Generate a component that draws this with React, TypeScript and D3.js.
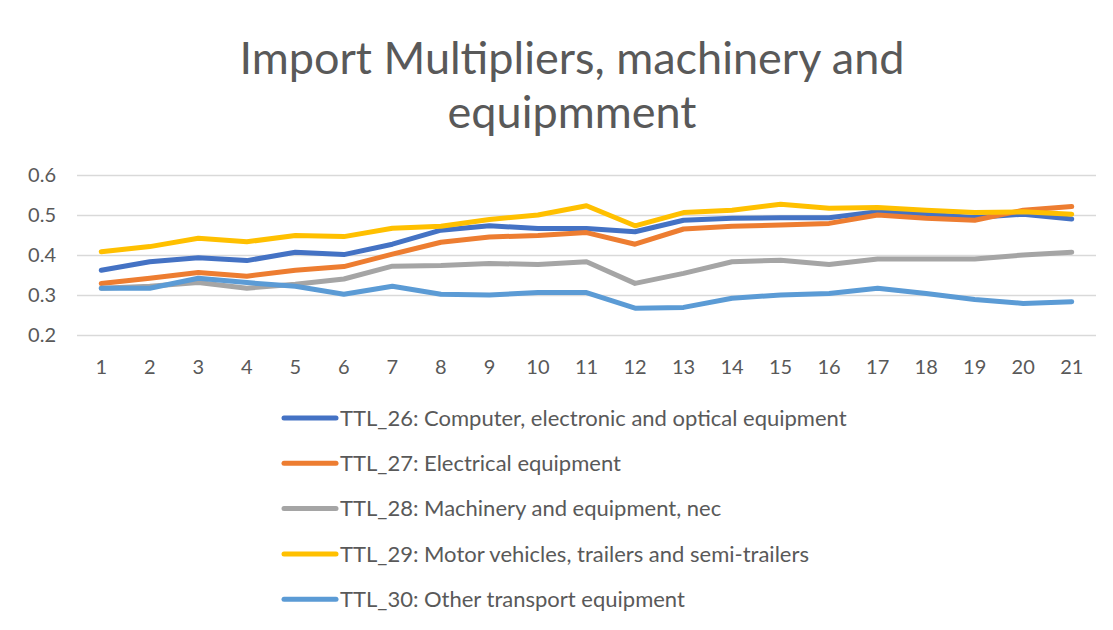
import React, { useEffect, useRef } from "react";
import * as d3 from "d3";

const categories = d3.range(1, 22).map(String);

const ttl26 = [0.362, 0.383, 0.393, 0.386, 0.407, 0.401, 0.427, 0.462, 0.473, 0.466, 0.466, 0.458, 0.487, 0.492, 0.493, 0.493, 0.508, 0.502, 0.494, 0.502, 0.49];
const ttl27 = [0.329, 0.342, 0.356, 0.347, 0.362, 0.371, 0.402, 0.432, 0.445, 0.449, 0.456, 0.427, 0.465, 0.472, 0.475, 0.479, 0.5, 0.492, 0.487, 0.512, 0.521];
const ttl28 = [0.317, 0.322, 0.331, 0.317, 0.327, 0.34, 0.372, 0.374, 0.379, 0.376, 0.383, 0.329, 0.354, 0.383, 0.387, 0.376, 0.39, 0.39, 0.39, 0.4, 0.407];
const ttl29 = [0.408, 0.421, 0.442, 0.433, 0.449, 0.446, 0.467, 0.472, 0.489, 0.5, 0.523, 0.473, 0.506, 0.512, 0.527, 0.517, 0.519, 0.512, 0.506, 0.508, 0.502];
const ttl30 = [0.317, 0.317, 0.342, 0.331, 0.322, 0.302, 0.322, 0.302, 0.3, 0.306, 0.306, 0.267, 0.269, 0.292, 0.3, 0.304, 0.317, 0.304, 0.289, 0.279, 0.283];

const seriesNames = [
  "TTL_26: Computer, electronic and optical equipment",
  "TTL_27: Electrical equipment",
  "TTL_28: Machinery and equipment, nec",
  "TTL_29: Motor vehicles, trailers and semi-trailers",
  "TTL_30: Other transport equipment",
];
const colors = ["#4472C4", "#ED7D31", "#A5A5A5", "#FFC000", "#5B9BD5"];
const yTicks = [0.2, 0.3, 0.4, 0.5, 0.6];

export default function App() {
  const ref = useRef<HTMLDivElement>(null);

  useEffect(() => {
    const width = 1113;
    const height = 630;
    const font = "Lato, 'Open Sans', sans-serif";
    const textColor = "#595959";
    const margin = { top: 175, right: 17, bottom: 295, left: 77 };

    const series = [ttl26, ttl27, ttl28, ttl29, ttl30].map((vals, i) => ({
      name: seriesNames[i],
      color: colors[i],
      values: vals.map((v, j) => ({ cat: categories[j], v })),
    }));

    const root = d3.select(ref.current);
    root.selectAll("*").remove();

    const svg = root
      .append("svg")
      .attr("width", width)
      .attr("height", height)
      .style("display", "block")
      .style("font-family", font);

    svg.append("rect").attr("width", width).attr("height", height).attr("fill", "white");
    svg
      .append("line")
      .attr("x1", 6.5)
      .attr("x2", 6.5)
      .attr("y1", 0)
      .attr("y2", height)
      .attr("stroke", "#d9d9d9")
      .attr("stroke-width", 1.5);

    const x = d3
      .scaleBand()
      .domain(categories)
      .range([margin.left, width - margin.right]);

    const y = d3
      .scaleLinear()
      .domain([0.2, 0.6])
      .range([height - margin.bottom, margin.top]);

    // title
    svg
      .append("g")
      .attr("fill", textColor)
      .attr("font-size", 45)
      .attr("text-anchor", "middle")
      .selectAll("text")
      .data(["Import Multipliers, machinery and", "equipmment"])
      .join("text")
      .attr("x", 572)
      .attr("y", (d, i) => 74 + i * 54)
      .text(d => d);

    // gridlines
    svg
      .append("g")
      .selectAll("line")
      .data(yTicks)
      .join("line")
      .attr("x1", margin.left)
      .attr("x2", width - margin.right)
      .attr("y1", d => Math.round(y(d)) + 0.5)
      .attr("y2", d => Math.round(y(d)) + 0.5)
      .attr("stroke", "#d9d9d9")
      .attr("stroke-width", 1.5);

    // y labels
    svg
      .append("g")
      .attr("fill", textColor)
      .attr("font-size", 20)
      .attr("text-anchor", "end")
      .selectAll("text")
      .data(yTicks)
      .join("text")
      .attr("x", 56)
      .attr("y", d => y(d))
      .attr("dy", "0.35em")
      .text(d => d3.format(".1f")(d));

    // x labels
    svg
      .append("g")
      .attr("fill", textColor)
      .attr("font-size", 20)
      .attr("text-anchor", "middle")
      .selectAll("text")
      .data(categories)
      .join("text")
      .attr("x", d => (x(d) ?? 0) + x.bandwidth() / 2)
      .attr("y", 374)
      .text(d => d);

    const line = d3
      .line<{ cat: string; v: number }>()
      .x(d => (x(d.cat) ?? 0) + x.bandwidth() / 2)
      .y(d => y(d.v));

    svg
      .append("g")
      .selectAll("path")
      .data(series)
      .join("path")
      .attr("fill", "none")
      .attr("stroke", d => d.color)
      .attr("stroke-width", 5)
      .attr("stroke-linejoin", "round")
      .attr("stroke-linecap", "round")
      .attr("d", d => line(d.values));

    // legend
    const legend = svg
      .append("g")
      .selectAll("g")
      .data(series)
      .join("g")
      .attr("transform", (d, i) => `translate(284,${418 + i * 45.3})`);

    legend
      .append("line")
      .attr("x1", 0)
      .attr("x2", 52)
      .attr("stroke", d => d.color)
      .attr("stroke-width", 5)
      .attr("stroke-linecap", "round");

    legend
      .append("text")
      .attr("x", 56)
      .attr("dy", "0.35em")
      .attr("fill", textColor)
      .attr("font-size", 22)
      .text(d => d.name);
  }, []);

  return <div ref={ref} style={{ margin: -8 }} />;
}
